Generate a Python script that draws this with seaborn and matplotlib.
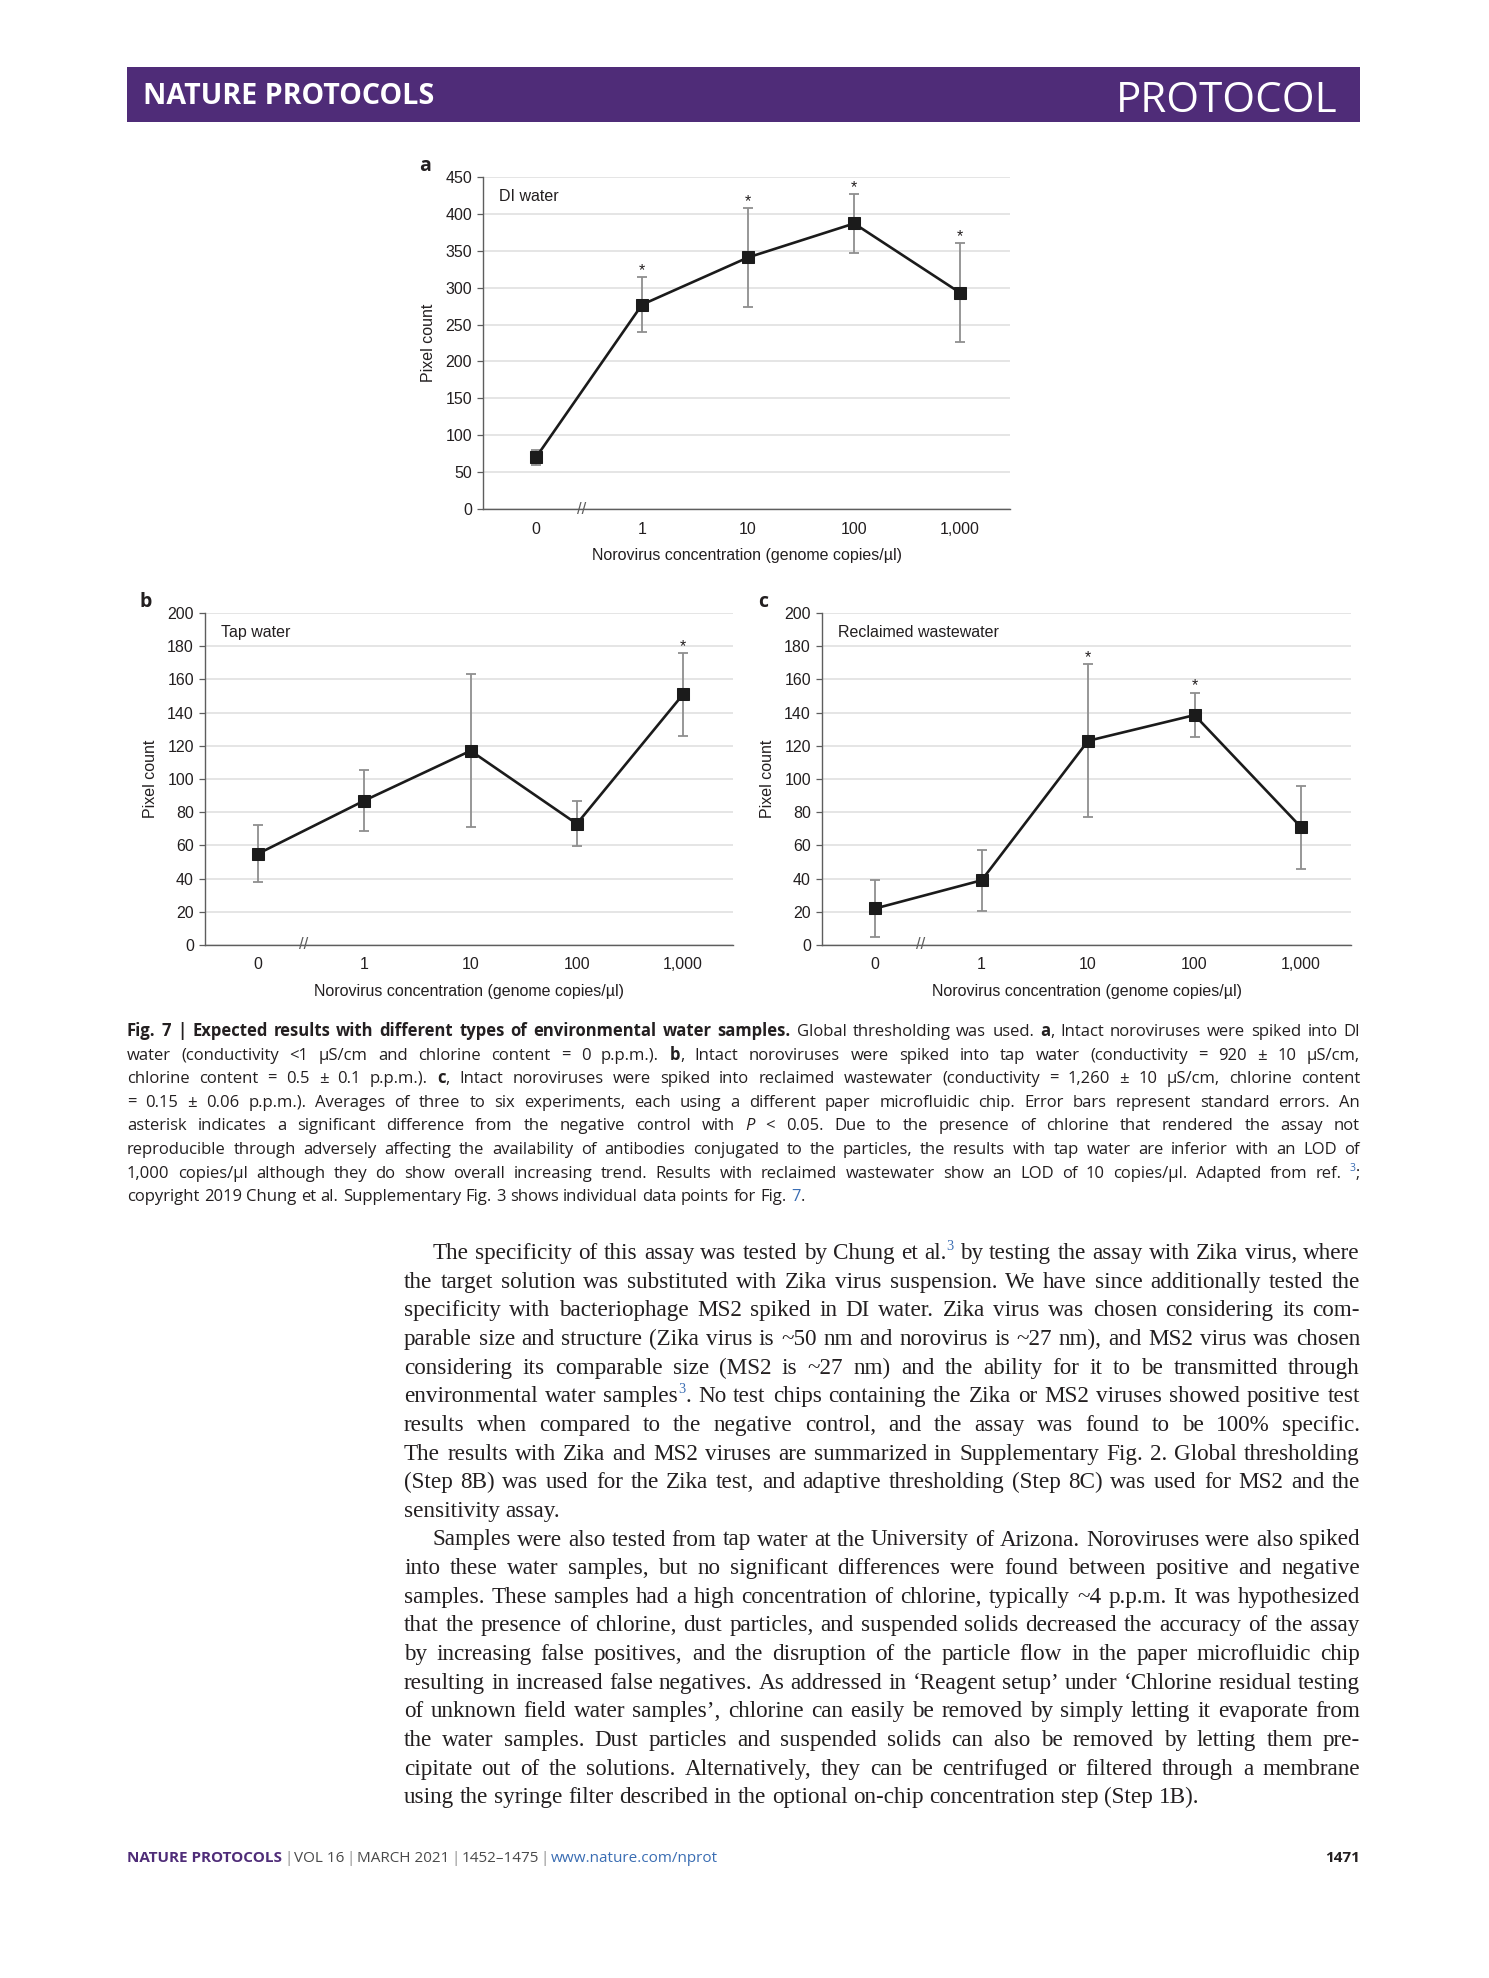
import re
import numpy as np
import pandas as pd
import matplotlib
matplotlib.use("Agg")
import matplotlib.pyplot as plt
from matplotlib.patches import Rectangle
import seaborn as sns

# page size in pixels
W, H = 1489, 1978
DPI = 100

# ---- data ----
conc_labels = ["0", "1", "10", "100", "1,000"]

di_mean = [70, 277, 341, 387, 293]
di_err = [10, 37, 67, 40, 67]
di_star = [False, True, True, True, True]

tap_mean = [55, 87, 117, 73, 151]
tap_err = [17, 18.5, 46, 13.5, 25]
tap_star = [False, False, False, False, True]

rw_mean = [22, 39, 123, 138.5, 71]
rw_err = [17, 18.5, 46, 13.5, 25]
rw_star = [False, False, True, True, False]

caption_lines = [
    "{b:Fig. 7 | Expected results with different types of environmental water samples.} Global thresholding was used. {b:a}, Intact noroviruses were spiked into DI",
    "water (conductivity <1 µS/cm and chlorine content = 0 p.p.m.). {b:b}, Intact noroviruses were spiked into tap water (conductivity = 920 ± 10 µS/cm,",
    "chlorine content = 0.5 ± 0.1 p.p.m.). {b:c}, Intact noroviruses were spiked into reclaimed wastewater (conductivity = 1,260 ± 10 µS/cm, chlorine content",
    "= 0.15 ± 0.06 p.p.m.). Averages of three to six experiments, each using a different paper microfluidic chip. Error bars represent standard errors. An",
    "asterisk indicates a significant difference from the negative control with {i:P} < 0.05. Due to the presence of chlorine that rendered the assay not",
    "reproducible through adversely affecting the availability of antibodies conjugated to the particles, the results with tap water are inferior with an LOD of",
    "1,000 copies/µl although they do show overall increasing trend. Results with reclaimed wastewater show an LOD of 10 copies/µl. Adapted from ref. {s:3};",
    "copyright 2019 Chung et al. Supplementary Fig. 3 shows individual data points for Fig. {u:7}.",
]

body_lines = [
    "The specificity of this assay was tested by Chung et al.{s:3} by testing the assay with Zika virus, where",
    "the target solution was substituted with Zika virus suspension. We have since additionally tested the",
    "specificity with bacteriophage MS2 spiked in DI water. Zika virus was chosen considering its com-",
    "parable size and structure (Zika virus is ~50 nm and norovirus is ~27 nm), and MS2 virus was chosen",
    "considering its comparable size (MS2 is ~27 nm) and the ability for it to be transmitted through",
    "environmental water samples{s:3}. No test chips containing the Zika or MS2 viruses showed positive test",
    "results when compared to the negative control, and the assay was found to be 100% specific.",
    "The results with Zika and MS2 viruses are summarized in Supplementary Fig. 2. Global thresholding",
    "(Step 8B) was used for the Zika test, and adaptive thresholding (Step 8C) was used for MS2 and the",
    "sensitivity assay.",
    "Samples were also tested from tap water at the University of Arizona. Noroviruses were also spiked",
    "into these water samples, but no significant differences were found between positive and negative",
    "samples. These samples had a high concentration of chlorine, typically ~4 p.p.m. It was hypothesized",
    "that the presence of chlorine, dust particles, and suspended solids decreased the accuracy of the assay",
    "by increasing false positives, and the disruption of the particle flow in the paper microfluidic chip",
    "resulting in increased false negatives. As addressed in ‘Reagent setup’ under ‘Chlorine residual testing",
    "of unknown field water samples’, chlorine can easily be removed by simply letting it evaporate from",
    "the water samples. Dust particles and suspended solids can also be removed by letting them pre-",
    "cipitate out of the solutions. Alternatively, they can be centrifuged or filtered through a membrane",
    "using the syringe filter described in the optional on-chip concentration step (Step 1B).",
]
body_indent = [0, 10]          # first line of each paragraph
body_last = [9, 19]            # last lines are not justified

footer_parts = [("NATURE PROTOCOLS", "purple"), ("VOL 16", "dark"), ("MARCH 2021", "dark"),
                ("1452–1475", "dark"), ("www.nature.com/nprot", "blue")]

PURPLE = "#4f2c78"
INK = "#231f20"
LINK = "#3a6db3"

sns.set_theme(style="white")
plt.rcParams["font.family"] = ["Liberation Sans", "DejaVu Sans"]

UI = dict(family=["Open Sans", "DejaVu Sans"])

fig = plt.figure(figsize=(W / DPI, H / DPI), dpi=DPI)
renderer = fig.canvas.get_renderer()


def px(x, y):
    return x / W, 1 - y / H


def text_w(s, **kw):
    t = fig.text(0, 0, s, **kw)
    w = t.get_window_extent(renderer).width
    t.remove()
    return w


# ---- header bar ----
fig.add_artist(Rectangle(px(127, 122), (1360 - 127) / W, 55 / H, transform=fig.transFigure,
                         facecolor=PURPLE, edgecolor="none"))
hs = 20 * 291 / text_w("NATURE PROTOCOLS", weight="bold", size=20, **UI)
fig.text(*px(143, 104), "NATURE PROTOCOLS", weight="bold", size=hs,
         color="white", va="baseline", **UI)
ps = 30 * 221 / text_w("PROTOCOL", size=30, **UI)
fig.text(*px(1338, 112), "PROTOCOL", size=ps, color="white",
         ha="right", va="baseline", **UI)

# ---- the three charts ----
panels = [
    dict(letter="a", name="DI water", mean=di_mean, err=di_err, star=di_star,
         ymax=450, step=50, box=(483, 177, 1010, 509), lpos=(425, 166)),
    dict(letter="b", name="Tap water", mean=tap_mean, err=tap_err, star=tap_star,
         ymax=200, step=20, box=(205, 613, 733, 945), lpos=(146, 602)),
    dict(letter="c", name="Reclaimed wastewater", mean=rw_mean, err=rw_err, star=rw_star,
         ymax=200, step=20, box=(822, 613, 1351, 945), lpos=(763, 602)),
]

FS = 11.5
for p in panels:
    l, t, r, b = p["box"]
    ax = fig.add_axes([l / W, 1 - b / H, (r - l) / W, (b - t) / H])
    df = pd.DataFrame({"pos": np.arange(len(conc_labels)), "mean": p["mean"], "err": p["err"]})
    ax.errorbar(df["pos"], df["mean"], yerr=df["err"], fmt="none", ecolor="#8f8f8f",
                elinewidth=1.3, capsize=3.5, capthick=1.3, zorder=2)
    sns.lineplot(data=df, x="pos", y="mean", ax=ax, color="#1b1b1b", lw=1.9, marker="s",
                 markersize=9, markeredgecolor="#1b1b1b", zorder=3)
    for i, s in enumerate(p["star"]):
        if s:
            ax.annotate("*", (i, p["mean"][i] + p["err"][i]), xytext=(0, 1.5),
                        textcoords="offset points", ha="center", va="baseline",
                        fontsize=FS, color=INK)
    ax.set_xlim(-0.5, 4.47)
    ax.set_ylim(0, p["ymax"])
    ax.set_xticks(df["pos"], conc_labels)
    ax.set_yticks(np.arange(0, p["ymax"] + 1, p["step"]))
    ax.tick_params(axis="x", length=0, pad=9, labelsize=FS, labelcolor=INK)
    ax.tick_params(axis="y", length=4, width=0.9, color="#5e5e5e", pad=4, labelsize=FS,
                   labelcolor=INK, left=True)
    ax.yaxis.grid(True, color="#dedede", lw=1.1)
    ax.xaxis.grid(False)
    for side in ["top", "right"]:
        ax.spines[side].set_visible(False)
    for side in ["left", "bottom"]:
        ax.spines[side].set_color("#5e5e5e")
        ax.spines[side].set_linewidth(1.0)
    ax.set_xlabel("Norovirus concentration (genome copies/µl)", fontsize=FS, color=INK)
    ax.set_ylabel("Pixel count", fontsize=FS, color=INK)
    ax.xaxis.set_label_coords(0.5, -39 / (b - t))
    ax.yaxis.set_label_coords(-47 / (r - l), 0.5)
    ax.text(0.03, 0.94, p["name"], transform=ax.transAxes, ha="left", va="center",
            fontsize=FS, color=INK)
    ax.text(0.43, 0, "//", ha="center", va="center", fontsize=12, color="#5e5e5e",
            clip_on=False)
    fig.text(*px(*p["lpos"]), p["letter"], weight="bold", size=14,
             color=INK, ha="center", va="center", **UI)


# ---- justified text blocks ----
def expand(line):
    return re.sub(r"\{([bisu]):([^}]*)\}",
                  lambda m: " ".join("{%s:%s}" % (m.group(1), w) for w in m.group(2).split(" ")),
                  line)


def parse(word):
    segs = []
    for part in re.split(r"(\{[bisu]:[^}]*\})", word):
        if not part:
            continue
        m = re.match(r"\{([bisu]):(.*)\}$", part)
        segs.append((m.group(2), m.group(1)) if m else (part, ""))
    return segs


def seg_props(st, base):
    kw = dict(base)
    if st == "b":
        kw["weight"] = "bold"
    elif st == "i":
        kw["style"] = "italic"
    elif st == "s":
        kw["size"] = base["size"] * 0.62
        kw["color"] = LINK
    elif st == "u":
        kw["color"] = LINK
    return kw


def line_words(line, base):
    words = [parse(w) for w in expand(line).split(" ")]
    widths = [sum(text_w(s, **seg_props(st, base)) for s, st in segs) for segs in words]
    return words, widths


def space_w(base):
    return text_w("a a", **base) - text_w("aa", **base)


def draw_line(x0, x1, y, line, base, justify=True):
    words, widths = line_words(line, base)
    gap = (x1 - x0 - sum(widths)) / (len(words) - 1) if justify and len(words) > 1 else space_w(base)
    x = x0
    for segs in words:
        for s, st in segs:
            kw = seg_props(st, base)
            dy = base["size"] * 0.40 * DPI / 72 if st == "s" else 0
            fig.text(*px(x, y - dy), s, ha="left", va="baseline", **kw)
            x += text_w(s, **kw)
        x += gap


def fit_size(lines, font, width, ref=10.0, cap=20.0, indents=None):
    base = dict(size=ref, color=INK, **font)
    best = 0
    for i, ln in enumerate(lines):
        words, widths = line_words(ln, base)
        nat = sum(widths) + space_w(base) * (len(words) - 1)
        avail_w = width - (indents.get(i, 0) if indents else 0)
        best = max(best, nat / avail_w)
    return min(ref / best * 0.995, cap)


# caption
cap_size = fit_size(caption_lines, UI, 1360 - 127, cap=12)
cap_base = dict(size=cap_size, color=INK, **UI)
for i, ln in enumerate(caption_lines):
    draw_line(127, 1360, 1036 + 23.6 * i, ln, cap_base, justify=i < len(caption_lines) - 1)

# body text
SERIF = dict(family="Liberation Serif")
indents = {i: 29 for i in body_indent}
body_size = fit_size(body_lines, SERIF, 1360 - 404, cap=17, indents=indents)
body_base = dict(size=body_size, color=INK, **SERIF)
for i, ln in enumerate(body_lines):
    x0 = 404 + indents.get(i, 0)
    draw_line(x0, 1360, 1259 + 28.65 * i, ln, body_base, justify=i not in body_last)

# ---- footer ----
fbase = dict(size=10, **UI)
sep_w = text_w("|", **fbase) + 4
total = sum(text_w(s, weight="bold" if k == "purple" else "normal", **fbase)
            for s, k in footer_parts) + sep_w * (len(footer_parts) - 1)
fbase["size"] = 10 * 592 / total
x = 127
for k, (s, kind) in enumerate(footer_parts):
    kw = dict(fbase)
    if kind == "purple":
        kw.update(weight="bold", color=PURPLE)
    elif kind == "blue":
        kw.update(color=LINK)
    else:
        kw.update(color="#4a4a4a")
    fig.text(*px(x, 1862), s, ha="left", va="baseline", **kw)
    x += text_w(s, **kw)
    if k < len(footer_parts) - 1:
        fig.text(*px(x + 2, 1862), "|", ha="left", va="baseline", color="#8a8a8a", **fbase)
        x += 4 + text_w("|", **fbase)
fig.text(*px(1360, 1862), "1471", ha="right", va="baseline", weight="bold",
         color=INK, **fbase)

fig.savefig("out.png", dpi=DPI)
